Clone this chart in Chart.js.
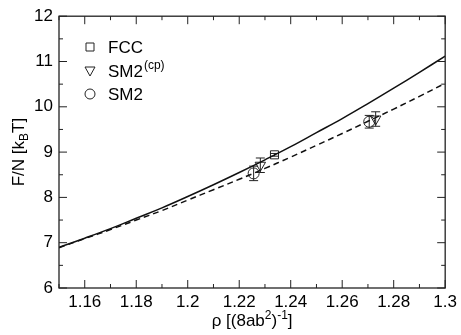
<!DOCTYPE html>
<html>
<head>
<meta charset="utf-8">
<script src="https://cdn.jsdelivr.net/npm/chart.js@4.4.1/dist/chart.umd.min.js"></script>
<style>
  body { margin: 0; background: #fff; }
  canvas { display: block; }
</style>
</head>
<body>
<canvas id="freeEnergy" width="461" height="335"></canvas>
<script>
// density grid for the two fitted curves
var rhoGrid = [1.15, 1.16, 1.17, 1.18, 1.19, 1.20, 1.21, 1.22, 1.23, 1.24, 1.25, 1.26, 1.27, 1.28, 1.29, 1.30];
var fccCurve = [6.90, 7.10, 7.31, 7.54, 7.77, 8.02, 8.28, 8.55, 8.83, 9.12, 9.43, 9.74, 10.07, 10.41, 10.76, 11.12];
var sm2Curve = [6.89, 7.09, 7.29, 7.50, 7.71, 7.94, 8.17, 8.40, 8.64, 8.89, 9.15, 9.41, 9.68, 9.95, 10.23, 10.52];

// simulation points
var fccRho = [1.2337];
var fccF = [8.94];
var fccErr = [0.03];

var sm2cpRho = [1.2282, 1.2730];
var sm2cpF = [8.71, 9.73];
var sm2cpErr = [0.16, 0.16];

var sm2Rho = [1.2256, 1.2705];
var sm2F = [8.53, 9.67];
var sm2Err = [0.16, 0.14];

var legendLabels = ['FCC', 'SM2', 'SM2'];

var FONT = "'Liberation Sans', Arial, Helvetica, sans-serif";

function toPoints(xs, ys) {
    return xs.map(function (x, i) { return { x: x, y: ys[i] }; });
}

function drawMarker(ctx, style, x, y) {
    ctx.beginPath();
    if (style === 'rect') {
        ctx.rect(x - 4, y - 4, 8, 8);
    } else if (style === 'triangle') {
        ctx.moveTo(x - 5, y - 4);
        ctx.lineTo(x + 5, y - 4);
        ctx.lineTo(x, y + 5);
        ctx.closePath();
    } else {
        ctx.arc(x, y, 5, 0, Math.PI * 2);
    }
    ctx.stroke();
}

// frame, inward ticks, error bars, legend and axis titles
var decorPlugin = {
    id: 'decor',
    beforeDatasetsDraw: function (chart) {
        var ctx = chart.ctx;
        var xs = chart.scales.x, ys = chart.scales.y;
        var sets = [[fccRho, fccF, fccErr], [sm2cpRho, sm2cpF, sm2cpErr], [sm2Rho, sm2F, sm2Err]];
        ctx.save();
        ctx.strokeStyle = '#222';
        ctx.lineWidth = 1;
        sets.forEach(function (s) {
            s[0].forEach(function (r, i) {
                var px = xs.getPixelForValue(r);
                var top = ys.getPixelForValue(s[1][i] + s[2][i]);
                var bot = ys.getPixelForValue(s[1][i] - s[2][i]);
                ctx.beginPath();
                ctx.moveTo(px, top); ctx.lineTo(px, bot);
                ctx.moveTo(px - 4.5, top); ctx.lineTo(px + 4.5, top);
                ctx.moveTo(px - 4.5, bot); ctx.lineTo(px + 4.5, bot);
                ctx.stroke();
            });
        });
        ctx.restore();
    },
    afterDraw: function (chart) {
        var ctx = chart.ctx;
        var a = chart.chartArea;
        var xs = chart.scales.x, ys = chart.scales.y;
        ctx.save();
        ctx.strokeStyle = '#222';
        ctx.lineWidth = 1.3;
        ctx.strokeRect(a.left, a.top, a.right - a.left, a.bottom - a.top);

        ctx.lineWidth = 1;
        ctx.beginPath();
        xs.ticks.forEach(function (t) {
            var px = xs.getPixelForValue(t.value);
            var major = Math.round(t.value * 100) % 2 === 0;
            var len = major ? 8 : 4;
            ctx.moveTo(px, a.bottom); ctx.lineTo(px, a.bottom - len);
            ctx.moveTo(px, a.top); ctx.lineTo(px, a.top + len);
        });
        ys.ticks.forEach(function (t) {
            var py = ys.getPixelForValue(t.value);
            var major = Math.abs(t.value - Math.round(t.value)) < 1e-6;
            var len = major ? 8 : 4;
            ctx.moveTo(a.left, py); ctx.lineTo(a.left + len, py);
            ctx.moveTo(a.right, py); ctx.lineTo(a.right - len, py);
        });
        ctx.stroke();

        // legend
        var lx = 90, rows = [47, 71, 94], styles = ['rect', 'triangle', 'circle'];
        ctx.fillStyle = '#000';
        ctx.textBaseline = 'alphabetic';
        ctx.textAlign = 'left';
        rows.forEach(function (y, i) {
            drawMarker(ctx, styles[i], lx, y);
            ctx.font = '17px ' + FONT;
            ctx.fillText(legendLabels[i], 108, y + 6);
            if (i === 1) {
                var w = ctx.measureText(legendLabels[i]).width;
                ctx.font = '12px ' + FONT;
                ctx.fillText('(cp)', 108 + w + 1, y - 2);
            }
        });

        // y title: F/N [k_B T]
        ctx.save();
        ctx.translate(24, (a.top + a.bottom) / 2);
        ctx.rotate(-Math.PI / 2);
        var big = '17px ' + FONT, small = '12px ' + FONT;
        ctx.font = big;
        var w1 = ctx.measureText('F/N [k').width;
        var w3 = ctx.measureText('T]').width;
        ctx.font = small;
        var w2 = ctx.measureText('B').width;
        var x0 = -(w1 + w2 + w3) / 2;
        ctx.font = big;
        ctx.fillText('F/N [k', x0, 0);
        ctx.font = small;
        ctx.fillText('B', x0 + w1, 4);
        ctx.font = big;
        ctx.fillText('T]', x0 + w1 + w2, 0);
        ctx.restore();

        // x title: rho [(8ab^2)^-1]
        var parts = [['\u03c1 [(8ab', big, 0], ['2', small, -7], [')', big, 0], ['-1', small, -7], [']', big, 0]];
        var total = 0;
        parts.forEach(function (p) { ctx.font = p[1]; total += ctx.measureText(p[0]).width; });
        var cx = (a.left + a.right) / 2 - total / 2;
        parts.forEach(function (p) {
            ctx.font = p[1];
            ctx.fillText(p[0], cx, 326 + p[2]);
            cx += ctx.measureText(p[0]).width;
        });
        ctx.restore();
    }
};

var ctx = document.getElementById('freeEnergy').getContext('2d');
var chart = new Chart(ctx, {
    type: 'scatter',
    data: {
        datasets: [
            {
                type: 'line',
                data: toPoints(rhoGrid, fccCurve),
                borderColor: '#111',
                borderWidth: 1.5,
                pointRadius: 0,
                tension: 0.4,
                fill: false
            },
            {
                type: 'line',
                data: toPoints(rhoGrid, sm2Curve),
                borderColor: '#111',
                borderWidth: 1.5,
                borderDash: [6, 4],
                pointRadius: 0,
                tension: 0.4,
                fill: false
            },
            {
                data: toPoints(fccRho, fccF),
                pointStyle: 'rect',
                pointRadius: 5.7,
                backgroundColor: 'rgba(0,0,0,0)',
                borderColor: '#222',
                borderWidth: 1
            },
            {
                data: toPoints(sm2cpRho, sm2cpF),
                pointStyle: 'triangle',
                rotation: 180,
                pointRadius: 6,
                backgroundColor: 'rgba(0,0,0,0)',
                borderColor: '#222',
                borderWidth: 1
            },
            {
                data: toPoints(sm2Rho, sm2F),
                pointStyle: 'circle',
                pointRadius: 5.5,
                backgroundColor: 'rgba(0,0,0,0)',
                borderColor: '#222',
                borderWidth: 1
            }
        ]
    },
    options: {
        responsive: false,
        animation: false,
        layout: { padding: { top: 16, right: 13, left: 0, bottom: 0 } },
        plugins: {
            legend: { display: false },
            tooltip: { enabled: false }
        },
        scales: {
            x: {
                type: 'linear',
                min: 1.15,
                max: 1.3,
                grid: { display: false, drawTicks: false },
                border: { display: false },
                afterFit: function (scale) { scale.height = 47; },
                ticks: {
                    stepSize: 0.01,
                    autoSkip: false,
                    maxRotation: 0,
                    padding: 4,
                    color: '#000',
                    font: { family: FONT, size: 17 },
                    callback: function (v) {
                        var h = Math.round(v * 100);
                        return h % 2 === 0 ? String(h / 100) : '';
                    }
                }
            },
            y: {
                min: 6,
                max: 12,
                grid: { display: false, drawTicks: false },
                border: { display: false },
                afterFit: function (scale) { scale.width = 59; },
                ticks: {
                    stepSize: 0.5,
                    autoSkip: false,
                    padding: 6,
                    color: '#000',
                    font: { family: FONT, size: 17 },
                    callback: function (v) {
                        return Math.abs(v - Math.round(v)) < 1e-6 ? String(Math.round(v)) : '';
                    }
                }
            }
        }
    },
    plugins: [decorPlugin]
});
</script>
</body>
</html>
